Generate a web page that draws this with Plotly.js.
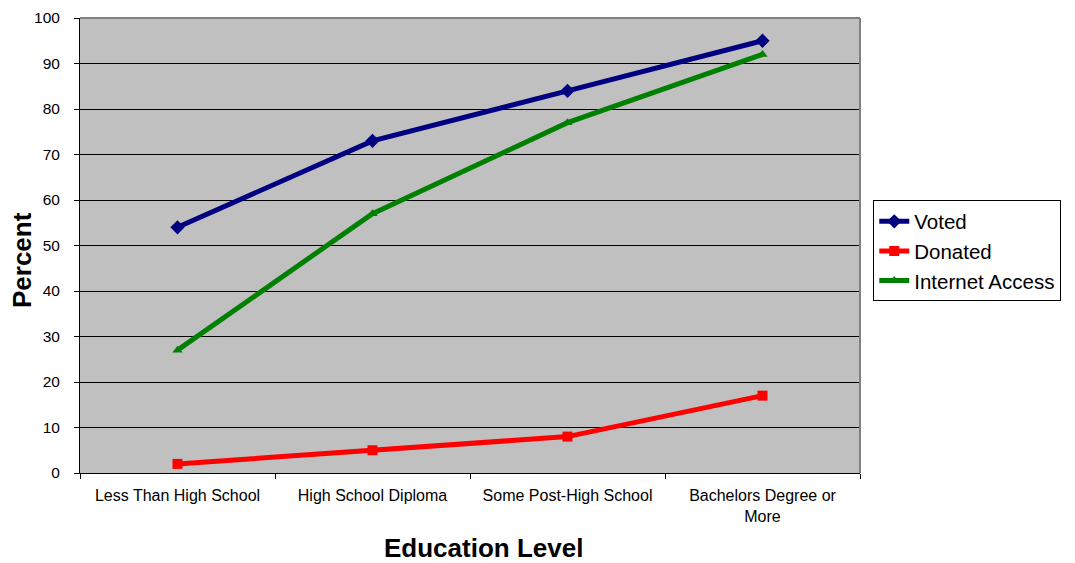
<!DOCTYPE html>
<html>
<head>
<meta charset="utf-8">
<script src="https://cdn.plot.ly/plotly-3.0.1.min.js"></script>
<style>
  html, body { margin: 0; padding: 0; background: #fff; }
  #chart { width: 1075px; height: 563px; }
</style>
</head>
<body>
<div id="chart"></div>
<script>
// Education levels on the category axis
const categories = [
  "Less Than High School",
  "High School Diploma",
  "Some Post-High School",
  "Bachelors Degree or<br>More"
];

// Percent values for each series
const voted = [54, 73, 84, 95];
const donated = [2, 5, 8, 17];
const internetAccess = [27, 57, 77, 92];

const yTicks = [0, 10, 20, 30, 40, 50, 60, 70, 80, 90, 100];

const xTitle = "Education Level";
const yTitle = "Percent";

const traces = [
  {
    name: "Voted", x: categories, y: voted, type: "scatter", mode: "lines+markers",
    line: { color: "#000080", width: 5 },
    marker: { symbol: "diamond", size: 11, color: "#000080" }
  },
  {
    name: "Donated", x: categories, y: donated, type: "scatter", mode: "lines+markers",
    line: { color: "#FF0000", width: 5 },
    marker: { symbol: "square", size: 10, color: "#FF0000" }
  },
  {
    name: "Internet Access", x: categories, y: internetAccess, type: "scatter", mode: "lines+markers",
    line: { color: "#008000", width: 5 },
    marker: { symbol: "triangle-up", size: 9, color: "#008000" }
  }
];

const layout = {
  width: 1075, height: 563,
  margin: { l: 80, r: 215, t: 18, b: 90, pad: 0 },
  paper_bgcolor: "#ffffff",
  plot_bgcolor: "#c0c0c0",
  font: { family: "Arial, 'Liberation Sans', sans-serif", size: 16, color: "#000" },
  showlegend: true,
  legend: {
    x: 1.017, y: 0.488, xanchor: "left", yanchor: "middle",
    bordercolor: "#000", borderwidth: 1, bgcolor: "#fff",
    font: { size: 20.5, color: "#000" },
    tracegroupgap: 0
  },
  xaxis: {
    type: "category",
    range: [-0.5, 3.5],
    tickson: "boundaries",
    ticks: "outside", ticklen: 5, tickcolor: "#000",
    showline: true, linecolor: "#000", linewidth: 1,
    mirror: false, showgrid: false, zeroline: false,
    tickfont: { size: 16 },
    ticklabelstandoff: 8
  },
  yaxis: {
    range: [0, 100],
    tickvals: yTicks,
    ticks: "outside", ticklen: 5, tickcolor: "#000",
    showline: true, linecolor: "#000", linewidth: 1,
    showgrid: true, gridcolor: "#000", gridwidth: 1,
    zeroline: false,
    tickfont: { size: 15.5 },
    ticklabelstandoff: 11
  },
  annotations: [
    // axis titles
    {
      text: xTitle, xref: "paper", yref: "paper", x: 0.517, y: -0.165,
      xanchor: "center", yanchor: "middle", showarrow: false, borderpad: 0,
      font: { size: 26, weight: "bold", color: "#000" }
    },
    {
      text: yTitle, xref: "paper", yref: "paper", x: -0.0744, y: 0.468,
      xanchor: "center", yanchor: "middle", showarrow: false, textangle: -90, borderpad: 0,
      font: { size: 26, weight: "bold", color: "#000" }
    }
  ],
  shapes: [
    // grey frame on the top and right of the plot area
    { type: "line", xref: "paper", yref: "paper", x0: 0, x1: 1, y0: 1, y1: 1, line: { color: "#808080", width: 2 } },
    { type: "line", xref: "paper", yref: "paper", x0: 1, x1: 1, y0: 0, y1: 1, line: { color: "#808080", width: 2 } }
  ]
};

Plotly.newPlot("chart", traces, layout, { displayModeBar: false, staticPlot: true });
</script>
</body>
</html>
